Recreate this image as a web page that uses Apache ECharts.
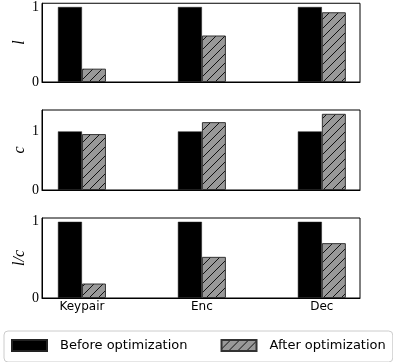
<!DOCTYPE html>
<html><head><meta charset="utf-8">
<script src="https://cdn.jsdelivr.net/npm/echarts@6/dist/echarts.min.js"></script>
<style>html,body{margin:0;padding:0;background:#fff}#c{width:393px;height:362px}</style>
</head><body><div id="c"></div>
<script>
var categories = ['Keypair', 'Enc', 'Dec'];
var seriesNames = ['Before optimization', 'After optimization'];
var lBefore = [1, 1, 1];
var lAfter = [0.178, 0.62, 0.93];
var cBefore = [1, 1, 1];
var cAfter = [0.954, 1.158, 1.30];
var lcBefore = [1, 1, 1];
var lcAfter = [0.19, 0.54, 0.72];
var yNames = ['l', 'c', 'l/c'];
var yMax = [1.05, 1.365, 1.05];
var yTicks = [0, 1];

function hatch() {
  var s = 9, cv = document.createElement('canvas');
  cv.width = s; cv.height = s;
  var g = cv.getContext('2d');
  g.fillStyle = '#999'; g.fillRect(0, 0, s, s);
  g.strokeStyle = '#111'; g.lineWidth = 1;
  g.beginPath();
  g.moveTo(-1, s + 1); g.lineTo(s + 1, -1);
  g.moveTo(-1, 1); g.lineTo(1, -1);
  g.moveTo(s - 1, s + 1); g.lineTo(s + 1, s - 1);
  g.stroke();
  return cv;
}
var pat = {image: hatch(), repeat: 'repeat'};

var tops = [2, 110, 218];
var grids = [], xAxes = [], yAxes = [], series = [];
var dataSets = [[lBefore, lAfter], [cBefore, cAfter], [lcBefore, lcAfter]];
for (var i = 0; i < 3; i++) {
  grids.push({left: 42, top: tops[i], width: 318, height: 80, show: true, borderColor: '#000', borderWidth: 1});
  xAxes.push({
    type: 'value', gridIndex: i, min: -0.333, max: 2.318,
    axisLine: {show: true, onZero: false, lineStyle: {color: '#000', width: 1}},
    axisTick: {show: false}, splitLine: {show: false},
    axisLabel: {show: i === 2, customValues: [0, 1, 2], formatter: function (v) { return categories[Math.round(v)]; },
      color: '#000', fontFamily: 'DejaVu Sans', fontSize: 12, margin: 3}
  });
  yAxes.push({
    type: 'value', gridIndex: i, min: 0, max: yMax[i],
    name: yNames[i], nameLocation: 'middle', nameGap: 14, nameRotate: 90, nameMoveOverlap: false,
    nameTextStyle: {fontFamily: 'Liberation Serif', fontStyle: 'italic', fontSize: 16, color: '#000'},
    axisLine: {show: true, onZero: false, lineStyle: {color: '#000', width: 1}},
    axisTick: {show: false}, splitLine: {show: false},
    axisLabel: {customValues: yTicks, color: '#000', fontFamily: 'Liberation Serif', fontSize: 14, margin: 3}
  });
  var d = dataSets[i];
  series.push({
    name: seriesNames[0], type: 'bar', xAxisIndex: i, yAxisIndex: i, barWidth: 24, barGap: '0%',
    data: d[0].map(function (v, k) { return [k, v]; }),
    itemStyle: {color: '#000', borderColor: '#222', borderWidth: 0.5}
  });
  series.push({
    name: seriesNames[1], type: 'bar', xAxisIndex: i, yAxisIndex: i, barWidth: 24, barGap: '0%',
    data: d[1].map(function (v, k) { return [k, v]; }),
    itemStyle: {color: pat, borderColor: '#333', borderWidth: 1}
  });
}

var chart = echarts.init(document.getElementById('c'), null, {renderer: 'canvas'});
chart.setOption({
  animation: false,
  grid: grids, xAxis: xAxes, yAxis: yAxes, series: series,
  legend: {
    data: seriesNames, left: 4, top: 331, padding: [8, 7, 10, 7], icon: 'rect',
    borderColor: '#ccc', borderWidth: 1, borderRadius: 4,
    itemWidth: 35, itemHeight: 11, itemGap: 33,
    textStyle: {fontFamily: 'DejaVu Sans', fontSize: 13, color: '#000', padding: [0, 0, 0, 8]}
  }
});
</script></body></html>
